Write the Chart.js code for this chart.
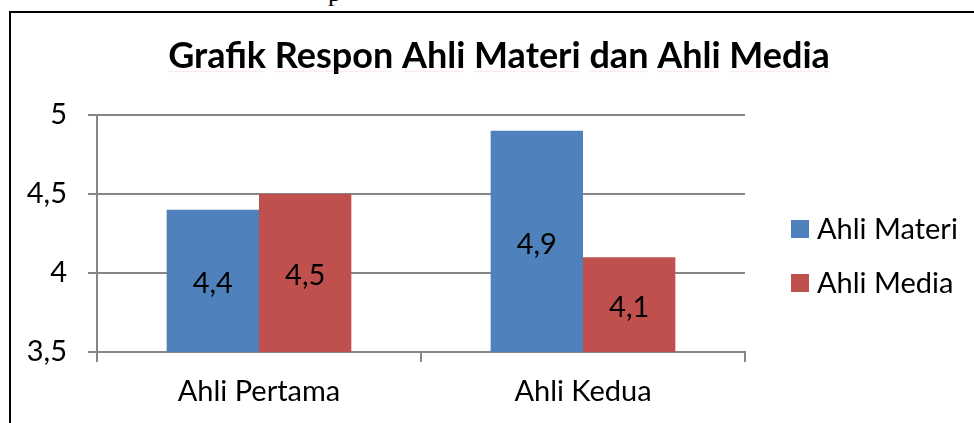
<!DOCTYPE html>
<html>
<head>
<meta charset="utf-8">
<script src="https://cdn.jsdelivr.net/npm/chart.js@4"></script>
<style>
  html, body { margin: 0; padding: 0; background: #fff; overflow: hidden; }
  #wrap { position: absolute; left: 0; top: 0; width: 974px; height: 423px; }
  #frame { position: absolute; left: 9px; top: 11px; width: 1000px; height: 500px;
           border-left: 2px solid #000; border-top: 2px solid #000; }
  #above { position: absolute; left: 328px; top: -22px; font: 26px "Liberation Serif", serif; color: #000; }
  canvas { position: absolute; left: 0; top: 0; }
</style>
</head>
<body>
<div id="wrap">
  <span id="above">p</span>
  <div id="frame"></div>
  <canvas id="chart" width="974" height="423"></canvas>
</div>
<script>
// data
const categories = ['Ahli Pertama', 'Ahli Kedua'];
const seriesNames = ['Ahli Materi', 'Ahli Media'];
const ahliMateri = [4.4, 4.9];
const ahliMedia = [4.5, 4.1];
const yTicks = [3.5, 4, 4.5, 5];
const colors = ['#4F81BD', '#C0504D'];

const FONT = 'Lato';
const titleText = 'Grafik Respon Ahli Materi dan Ahli Media';

function koma(v) {
    return String(v).replace('.', ',');
}

// judul + legenda + label nilai digambar manual
const extras = {
    id: 'extras',
    afterDraw(chart) {
        const ctx = chart.ctx;
        const yScale = chart.scales.y;
        ctx.save();
        // judul
        ctx.fillStyle = '#000';
        ctx.font = 'bold 36px ' + FONT;
        ctx.textAlign = 'left';
        ctx.textBaseline = 'alphabetic';
        const tw = ctx.measureText(titleText).width;
        const tx = 499 - tw / 2;
        ctx.fillText(titleText, tx, 68);

        // garis merah tipis (cek ejaan) di bawah kata
        ctx.strokeStyle = 'rgba(230,130,130,0.22)';
        ctx.lineWidth = 1;
        let cx = tx;
        titleText.split(' ').forEach(w => {
            const ww = ctx.measureText(w).width;
            ctx.beginPath();
            for (let k = 0; k <= ww; k += 2) {
                const yy = 71 + (k % 4 === 0 ? 0 : 1);
                if (k === 0) ctx.moveTo(cx + k, yy); else ctx.lineTo(cx + k, yy);
            }
            ctx.stroke();
            cx += ww + ctx.measureText(' ').width;
        });

        // label nilai di tengah batang
        ctx.font = '29px ' + FONT;
        ctx.textAlign = 'center';
        ctx.textBaseline = 'middle';
        chart.data.datasets.forEach((ds, i) => {
            chart.getDatasetMeta(i).data.forEach((bar, j) => {
                const p = bar.getProps(['x'], true);
                const top = yScale.getPixelForValue(ds.data[j]);
                const y = (top + yScale.bottom) / 2 + 3;
                ctx.fillStyle = '#000';
                ctx.fillText(koma(ds.data[j]), p.x, y);
            });
        });

        // legenda
        ctx.textAlign = 'left';
        ctx.font = '29px ' + FONT;
        const legY = [229, 283];
        seriesNames.forEach((name, i) => {
            ctx.fillStyle = colors[i];
            ctx.fillRect(791, legY[i] - 9, 18, 18);
            ctx.fillStyle = '#000';
            ctx.fillText(name, 817, legY[i] + 1);
        });
        ctx.restore();
    }
};

new Chart(document.getElementById('chart'), {
    type: 'bar',
    data: {
        labels: categories,
        datasets: [
            { label: seriesNames[0], data: ahliMateri, backgroundColor: colors[0] },
            { label: seriesNames[1], data: ahliMedia, backgroundColor: colors[1] }
        ]
    },
    options: {
        responsive: false,
        animation: false,
        events: [],
        categoryPercentage: 0.57,
        barPercentage: 1,
        layout: { padding: { left: 0, top: 115, right: 229, bottom: 0 } },
        plugins: {
            legend: { display: false },
            title: { display: false },
            tooltip: { enabled: false }
        },
        scales: {
            x: {
                grid: { drawOnChartArea: false, drawTicks: true, tickLength: 10, color: '#868686', lineWidth: 2 },
                border: { color: '#868686', width: 2 },
                ticks: { color: '#000', font: { family: FONT, size: 29 }, padding: 12 },
                afterFit(scale) { scale.height = 71; }
            },
            y: {
                min: 3.5,
                max: 5,
                afterBuildTicks(scale) { scale.ticks = yTicks.map(v => ({ value: v })); },
                grid: { color: '#868686', lineWidth: 2, tickLength: 9 },
                border: { color: '#868686', width: 2 },
                ticks: { color: '#000', font: { family: FONT, size: 29 }, padding: 21, callback: v => koma(v) },
                afterFit(scale) { scale.width = 97; }
            }
        }
    },
    plugins: [extras]
});
</script>
</body>
</html>
